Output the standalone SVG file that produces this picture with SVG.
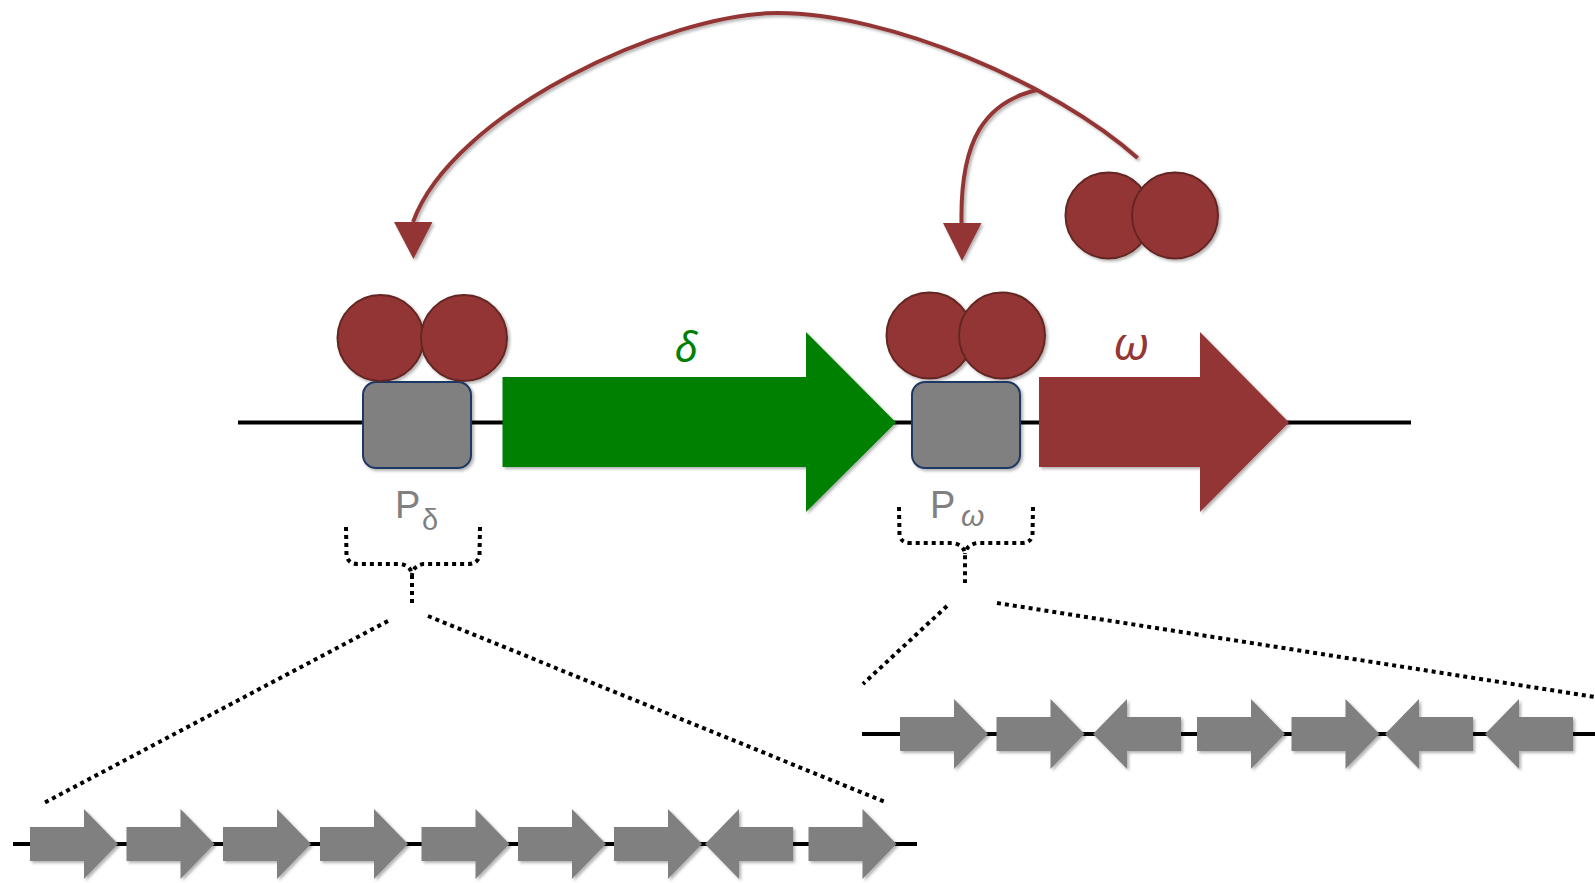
<svg xmlns="http://www.w3.org/2000/svg" xmlns:xlink="http://www.w3.org/1999/xlink" width="1595" height="883" viewBox="0 0 1595 883">
  <style>
    .dna { stroke: #000; stroke-width: 4; fill: none; }
    .prot { fill: #943634; stroke: #632523; stroke-width: 2; }
    .prom { fill: #808080; stroke: #1f3864; stroke-width: 2; }
    .gene { fill: #808080; }
    .reg { stroke: #943634; stroke-width: 4; fill: none; }
    .head { fill: #943634; }
    .dots { stroke: #000; stroke-width: 4; stroke-dasharray: 4 4; fill: none; }
    .plabel { font-family: "Liberation Sans", Arial, sans-serif; fill: #808080; }
    .glabel { font-family: "Noto Sans", "DejaVu Sans", sans-serif; font-style: italic; }
  </style>
  <defs>
    <filter id="shadow" x="-20%" y="-20%" width="140%" height="140%">
      <feDropShadow dx="2" dy="2" stdDeviation="1.5" flood-color="#000" flood-opacity="0.3"/>
    </filter>
    <!-- gene glyphs: right-pointing from shaft start, left-pointing from tip -->
    <path id="geneR" d="M0,-17 H54 V-35 L88,0 L54,35 V17 H0 Z"/>
    <path id="geneL" d="M0,0 L34,-35 V-17 H88 V17 H34 V35 Z"/>
  </defs>

  <!-- main locus backbone -->
  <g id="backbone">
    <line class="dna" x1="238" y1="422.5" x2="1411" y2="422.5"/>
  </g>

  <!-- regulatory connectors -->
  <g id="connectors" filter="url(#shadow)">
    <path class="reg" d="M1137.6,158 C1053.6,83 888,13 778,13 C668,13 452.6,112 413,222"/>
    <polygon class="head" points="394,222 432.5,222 413.4,259"/>
    <path class="reg" d="M1037,90 C985,102 960,140 961.5,223"/>
    <polygon class="head" points="943,223 981.5,223 962,261"/>
  </g>

  <!-- promoter P_delta with bound dimer -->
  <g id="prom-delta" filter="url(#shadow)">
    <rect class="prom" x="363" y="382" width="108" height="86" rx="13"/>
    <circle class="prot" cx="380.5" cy="338" r="43"/>
    <circle class="prot" cx="464" cy="338" r="43"/>
  </g>
  <g id="label-pdelta">
    <text class="plabel" x="395" y="518" font-size="38">P</text>
    <text class="plabel" x="422" y="530" font-size="29">δ</text>
  </g>

  <!-- delta gene -->
  <g id="gene-delta">
    <path fill="#008000" filter="url(#shadow)" d="M502.5,377 H806 V332 L896,422.5 L806,512 V467 H502.5 Z"/>
    <text class="glabel" x="686" y="362" font-size="42" fill="#008000" text-anchor="middle">δ</text>
  </g>

  <!-- promoter P_omega with bound dimer -->
  <g id="prom-omega" filter="url(#shadow)">
    <rect class="prom" x="912" y="382" width="108" height="86" rx="13"/>
    <circle class="prot" cx="929.5" cy="335.5" r="43"/>
    <circle class="prot" cx="1002" cy="335.5" r="43"/>
  </g>
  <g id="label-pomega">
    <text class="plabel" x="930" y="518" font-size="38">P</text>
    <text class="plabel" x="961" y="526" font-size="30" font-style="italic">ω</text>
  </g>

  <!-- omega gene -->
  <g id="gene-omega">
    <path fill="#943634" filter="url(#shadow)" d="M1039,377 H1200 V332 L1289,422.5 L1200,512 V467 H1039 Z"/>
    <text class="glabel" x="1131" y="360" font-size="46" fill="#943634" text-anchor="middle">ω</text>
  </g>

  <!-- free dimer -->
  <g id="free-dimer" filter="url(#shadow)">
    <circle class="prot" cx="1108.5" cy="215.5" r="43"/>
    <circle class="prot" cx="1175" cy="215.5" r="43"/>
  </g>

  <!-- zoom-out brackets and fan lines -->
  <g id="zoom-delta">
    <path class="dots" d="M346,527 L346.5,555 Q348,564 358,564 L401,564 Q411,566 412,575 L412,605"/>
    <path class="dots" d="M480,527 L479.5,555 Q478,564 468,564 L423,564 Q413,566 412,575"/>
    <line class="dots" x1="388" y1="621" x2="44" y2="803"/>
    <line class="dots" x1="428" y1="616" x2="885" y2="802"/>
  </g>
  <g id="zoom-omega">
    <path class="dots" d="M899,507 L899.5,535 Q901,543 910,543 L953,543 Q964,545 965,554 L965,583"/>
    <path class="dots" d="M1033,507 L1032.5,535 Q1031,543 1022,543 L977,543 Q966,545 965,554"/>
    <line class="dots" x1="947" y1="606" x2="863" y2="684"/>
    <line class="dots" x1="997" y1="603" x2="1595" y2="697"/>
  </g>

  <!-- operon detail under P_delta -->
  <g id="detail-delta">
    <line class="dna" x1="13" y1="844" x2="917" y2="844"/>
    <g class="gene" filter="url(#shadow)">
      <use xlink:href="#geneR" x="30" y="844"/>
      <use xlink:href="#geneR" x="126.5" y="844"/>
      <use xlink:href="#geneR" x="223" y="844"/>
      <use xlink:href="#geneR" x="320" y="844"/>
      <use xlink:href="#geneR" x="421.5" y="844"/>
      <use xlink:href="#geneR" x="518" y="844"/>
      <use xlink:href="#geneR" x="614" y="844"/>
      <use xlink:href="#geneL" x="705" y="844"/>
      <use xlink:href="#geneR" x="808.5" y="844"/>
    </g>
  </g>

  <!-- operon detail under P_omega -->
  <g id="detail-omega">
    <line class="dna" x1="862" y1="734" x2="1595" y2="734"/>
    <g class="gene" filter="url(#shadow)">
      <use xlink:href="#geneR" x="900" y="734"/>
      <use xlink:href="#geneR" x="996.5" y="734"/>
      <use xlink:href="#geneL" x="1093" y="734"/>
      <use xlink:href="#geneR" x="1197" y="734"/>
      <use xlink:href="#geneR" x="1291.5" y="734"/>
      <use xlink:href="#geneL" x="1385" y="734"/>
      <use xlink:href="#geneL" x="1485" y="734"/>
    </g>
  </g>
</svg>
